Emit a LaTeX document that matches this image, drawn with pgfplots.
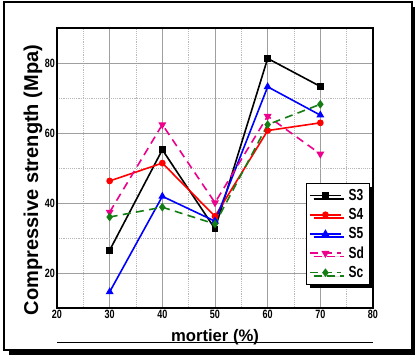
\documentclass[border=0pt]{standalone}
\usepackage{fontspec}
\setmainfont{Liberation Sans}
\newfontfamily\narrowfont[FakeStretch=0.75]{Liberation Sans}
\usepackage{pgfplots}
\pgfplotsset{compat=1.18}
\usetikzlibrary{shadows}
\definecolor{scgreen}{RGB}{20,125,20}

\begin{document}
\begin{tikzpicture}[x=1pt,y=1pt]
\useasboundingbox (-42.75,-38.25) rectangle (269.25,231);
% outer frame with its shadow
\fill[black] (-36,-35.25) rectangle (268.5,226);
\filldraw[fill=white,draw=black,line width=0.8pt] (-39.75,-31.5) rectangle (266.25,229.5);
\begin{axis}[
  at={(0,0)}, anchor=south west, scale only axis,
  width=237pt, height=210pt,
  xmin=20, xmax=80, ymin=10, ymax=90,
  xtick={20,30,...,80}, ytick={20,40,60,80},
  minor xtick={25,35,...,75}, minor ytick={30,50,70},
  grid=both,
  major grid style={gray!75, line width=0.6pt},
  minor grid style={gray!55, densely dotted, line width=0.6pt},
  tick style={draw=none},
  axis line style={black, line width=0.8pt},
  tick label style={font=\narrowfont\bfseries\fontsize{9}{10}\selectfont},
  /pgf/number format/assume math mode=true,
  xticklabel style={yshift=2pt},
  yticklabel style={xshift=2pt},
  legend style={at={(rel axis cs:0.99,0.446)}, anchor=north east,
    draw=black, line width=0.8pt, fill=white,
    font=\narrowfont\bfseries\fontsize{12}{14}\selectfont,
    drop shadow={shadow xshift=2.5pt, shadow yshift=-2.5pt, fill=black, opacity=1},
    inner sep=2pt, row sep=0.5pt,
    /tikz/every odd column/.append style={column sep=0.12cm}},
  legend cell align=left,
  legend image code/.code={\draw[mark repeat=2,mark phase=2] plot coordinates {(0cm,0cm) (0.4cm,0cm) (0.8cm,0cm)};},
  every axis plot/.append style={line width=1.2pt, mark size=1.9pt},
]
\addplot[black, mark=square*, mark options={solid}] coordinates {
 (30,26.5) (40,55.2) (50,32.6) (60,81.3) (70,73.3)};
\addlegendentry{S3}
\addplot[red, mark=*, mark options={solid}] coordinates {
 (30,46.3) (40,51.4) (50,36.2) (60,60.7) (70,62.9)};
\addlegendentry{S4}
\addplot[blue, mark=triangle*, mark options={solid}, mark size=2.3pt] coordinates {
 (30,14.6) (40,41.9) (50,34.8) (60,73.2) (70,65.1)};
\addlegendentry{S5}
\addplot[magenta, dash pattern=on 6pt off 4pt, mark=triangle*, mark options={solid, rotate=180}, mark size=2.3pt] coordinates {
 (30,37.4) (40,62.4) (50,40.1) (60,64.8) (70,54.0)};
\addlegendentry{Sd}
\addplot[scgreen, dash pattern=on 6pt off 4pt, mark=diamond*, mark options={solid}, mark size=2.3pt] coordinates {
 (30,36.0) (40,38.8) (50,34.0) (60,62.4) (70,68.2)};
\addlegendentry{Sc}
\end{axis}
% axis titles and the rule under the x title
\draw[black, line width=0.6pt] (0,-25.5) -- (237,-25.5);
\node[anchor=base, font=\bfseries\fontsize{12.5}{14}\selectfont, inner sep=0pt] at (118.5,-25.5) {mortier (\%)};
\node[rotate=90, font=\bfseries\fontsize{15}{17}\selectfont, inner sep=0pt] at (-18,96) {Compressive strength (Mpa)};
\end{tikzpicture}
\end{document}
